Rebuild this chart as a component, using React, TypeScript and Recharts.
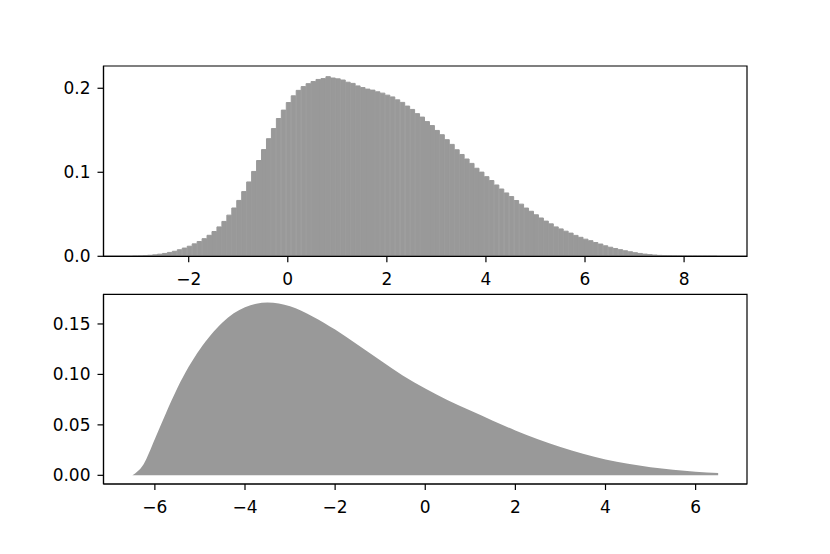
import { Area, AreaChart, Bar, BarChart, ReferenceArea, XAxis, YAxis } from "recharts";

// histogram (top panel): bins of equal width starting at histStart
const histStart = -3.13;
const histWidth = 0.1;
const histHeights = [
  0.0001, 0.0003, 0.0007, 0.0012, 0.0017, 0.0025, 0.0034, 0.0046, 0.006, 0.0078,
  0.0098, 0.012, 0.0148, 0.0176, 0.021, 0.025, 0.0295, 0.035, 0.0415, 0.049,
  0.0575, 0.0665, 0.077, 0.0885, 0.101, 0.114, 0.127, 0.14, 0.152, 0.164,
  0.174, 0.183, 0.191, 0.1975, 0.202, 0.2055, 0.208, 0.2105, 0.2115, 0.2138,
  0.2122, 0.2112, 0.2098, 0.2072, 0.2058, 0.2028, 0.2008, 0.199, 0.1978, 0.1958,
  0.1942, 0.1918, 0.1897, 0.1862, 0.1832, 0.1788, 0.1748, 0.1698, 0.1657, 0.1603,
  0.1556, 0.1498, 0.1447, 0.1388, 0.1332, 0.1268, 0.1212, 0.1158, 0.1106, 0.1048,
  0.1002, 0.0948, 0.0902, 0.0849, 0.0801, 0.0754, 0.0711, 0.0664, 0.0621, 0.0574,
  0.0536, 0.0494, 0.0456, 0.0419, 0.0386, 0.035, 0.0326, 0.0299, 0.0276, 0.0249,
  0.0226, 0.0204, 0.0186, 0.0164, 0.0146, 0.0125, 0.0108, 0.0093, 0.0079, 0.0066,
  0.0054, 0.0043, 0.0034, 0.0026, 0.002, 0.0015, 0.0011, 0.0008, 0.0006, 0.0005,
  0.0004, 0.0003, 0.0002, 0.0002, 0.0001, 0.0001, 0.0001, 0.0001,
];
const topXTicks = [-2, 0, 2, 4, 6, 8];
const topYTicks = [0, 0.1, 0.2];

// density curve (bottom panel)
const densityX = [
  -6.5, -6.25, -6.0, -5.75, -5.5, -5.25, -5.0, -4.75, -4.5, -4.25, -4.0, -3.75, -3.5,
  -3.25, -3.0, -2.5, -2.0, -1.5, -1.0, -0.5, 0.0, 0.5, 1.0, 1.5, 2.0, 2.5, 3.0, 3.5,
  4.0, 4.5, 5.0, 5.5, 6.0, 6.5,
];
const densityY = [
  0.0, 0.011, 0.036, 0.062, 0.0865, 0.1075, 0.125, 0.1395, 0.1515, 0.1605, 0.1665, 0.17, 0.1712,
  0.1702, 0.1675, 0.1575, 0.1445, 0.1295, 0.114, 0.099, 0.086, 0.0745, 0.0642, 0.0542, 0.0445,
  0.0357, 0.028, 0.0213, 0.0158, 0.0114, 0.008, 0.0055, 0.0036, 0.0022,
];
const bottomXTicks = [-6, -4, -2, 0, 2, 4, 6];
const bottomYTicks = [0, 0.05, 0.1, 0.15];

const histData = histHeights.map((h, i) => ({ x: histStart + histWidth * (i + 0.5), h }));
const densityData = densityX.map((x, i) => ({ x, y: densityY[i] }));

const FONT = "DejaVu Sans, sans-serif";
const tickStyle = { fontSize: 17, fill: "#000", fontFamily: FONT };
const fmtX = (v: number) => (v < 0 ? "\u2212" + Math.abs(v) : String(v));
const GREY = "#999999";

const topX: [number, number] = [-3.72, 9.27];
const topY: [number, number] = [0, 0.2265];
const botX: [number, number] = [-7.14, 7.14];
const botY: [number, number] = [-0.0086, 0.1794];

export default function App() {
  return (
    <div style={{ position: "absolute", left: 0, top: 0, width: 830, height: 554, background: "#fff" }}>
      <div style={{ position: "absolute", left: 0, top: 0 }}>
        <BarChart
          width={830}
          height={300}
          data={histData}
          margin={{ top: 66, right: 83, left: 43.5, bottom: 18.7 }}
          barCategoryGap={0}
          barGap={0}
        >
          <XAxis
            dataKey="x"
            type="number"
            domain={topX}
            ticks={topXTicks}
            tickFormatter={fmtX}
            tick={tickStyle}
            tickSize={6}
            tickMargin={11}
            height={25}
            stroke="#000"
            strokeWidth={1.2}
            allowDataOverflow
          />
          <YAxis
            type="number"
            domain={topY}
            ticks={topYTicks}
            tickFormatter={(v: number) => v.toFixed(1)}
            tick={tickStyle}
            tickSize={6}
            tickMargin={7}
            width={60}
            stroke="#000"
            strokeWidth={1.2}
            allowDataOverflow
          />
          <Bar dataKey="h" fill={GREY} stroke={GREY} strokeWidth={1} barSize={5} isAnimationActive={false} />
          <ReferenceArea
            x1={topX[0]}
            x2={topX[1]}
            y1={topY[0]}
            y2={topY[1]}
            fill="none"
            stroke="#000"
            strokeWidth={1.2}
            ifOverflow="visible"
          />
        </BarChart>
      </div>
      <div style={{ position: "absolute", left: 0, top: 285 }}>
        <AreaChart
          width={830}
          height={269}
          data={densityData}
          margin={{ top: 9.3, right: 83, left: 43.5, bottom: 40 }}
        >
          <XAxis
            dataKey="x"
            type="number"
            domain={botX}
            ticks={bottomXTicks}
            tickFormatter={fmtX}
            tick={tickStyle}
            tickSize={6}
            tickMargin={11}
            height={30}
            stroke="#000"
            strokeWidth={1.2}
            allowDataOverflow
          />
          <YAxis
            type="number"
            domain={botY}
            ticks={bottomYTicks}
            tickFormatter={(v: number) => v.toFixed(2)}
            tick={tickStyle}
            tickSize={6}
            tickMargin={7}
            width={60}
            stroke="#000"
            strokeWidth={1.2}
            allowDataOverflow
          />
          <Area
            dataKey="y"
            type="monotone"
            fill={GREY}
            fillOpacity={1}
            stroke="none"
            baseValue={0}
            isAnimationActive={false}
          />
          <ReferenceArea
            x1={botX[0]}
            x2={botX[1]}
            y1={botY[0]}
            y2={botY[1]}
            fill="none"
            stroke="#000"
            strokeWidth={1.2}
            ifOverflow="visible"
          />
        </AreaChart>
      </div>
    </div>
  );
}
